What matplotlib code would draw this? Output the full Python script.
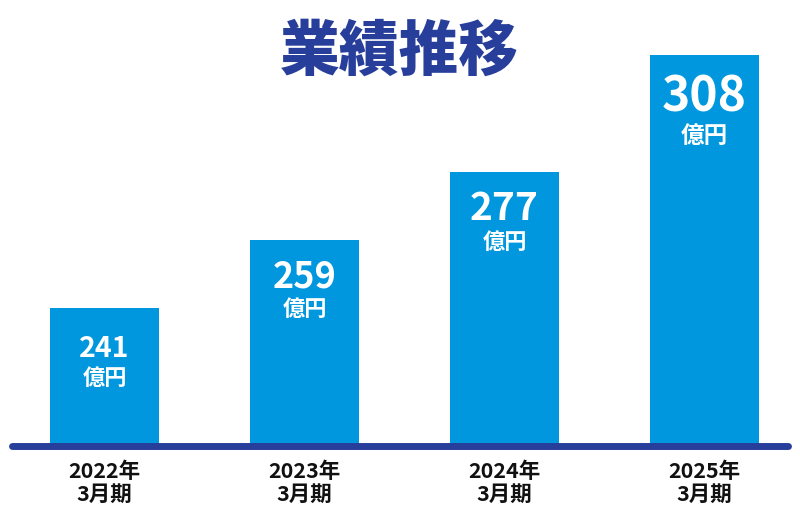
import matplotlib
matplotlib.use("Agg")
import matplotlib.pyplot as plt

plt.rcParams['font.family'] = ['Noto Sans CJK JP', 'DejaVu Sans']

# ---- data ----
years = ["2022年", "2023年", "2024年", "2025年"]
periods = ["3月期", "3月期", "3月期", "3月期"]
values = [241, 259, 277, 308]
unit = "億円"
title = "業績推移"

# ---- styles ----
bar_color = "#0097DE"
navy = "#283E9B"
label_sizes = [20.5, 26, 28, 34.5]      # pt, number labels
num_offsets = [-41, -37, -37, -42]      # px below bar top (centre)
unit_offsets = [-70, -69, -71, -81]     # px below bar top (centre)

W, H, DPI = 800, 516, 100
fig = plt.figure(figsize=(W / DPI, H / DPI), dpi=DPI)
ax = fig.add_axes([0, 0, 1, 1])

# axis scaling: 200 px per category, truncated value axis
px_per_cat = 200.0
x0_px = 104.5
ax.set_xlim(-x0_px / px_per_cat, (W - x0_px) / px_per_cat)
base = 204.5
k = 3.78  # px per value unit
base_px_from_bottom = H - 446
ax.set_ylim(base - base_px_from_bottom / k, base + (H - base_px_from_bottom) / k)
ax.axis('off')

xs = list(range(len(values)))
heights = [v - base for v in values]
ax.bar(xs, heights, bottom=base, width=0.545, color=bar_color, zorder=2)

# baseline
ax.plot([(12 - x0_px) / px_per_cat, (788 - x0_px) / px_per_cat], [base, base],
        color=navy, lw=5.0, solid_capstyle='round', zorder=3)

pt = 72.0 / DPI
for i, (x, v) in enumerate(zip(xs, values)):
    ax.annotate(str(v), (x, v), xytext=(0, num_offsets[i] * pt), textcoords='offset points',
                ha='center', va='center', color='white', fontsize=label_sizes[i],
                fontweight='bold', zorder=4)
    ax.annotate(unit, (x, v), xytext=(0, unit_offsets[i] * pt), textcoords='offset points',
                ha='center', va='center', color='white', fontsize=16 if i < 3 else 17,
                fontweight='bold', zorder=4)
    ax.annotate(years[i] + "\n" + periods[i], (x, base), xytext=(0, -37 * pt),
                textcoords='offset points', ha='center', va='center', color='#111111',
                fontsize=15.5, fontweight='bold', linespacing=1.12, zorder=4)

fig.text(0.499, 1 - 52 / H, title, ha='center', va='center', color=navy,
         fontsize=43, fontweight=900)

fig.savefig("out.png", dpi=DPI)
